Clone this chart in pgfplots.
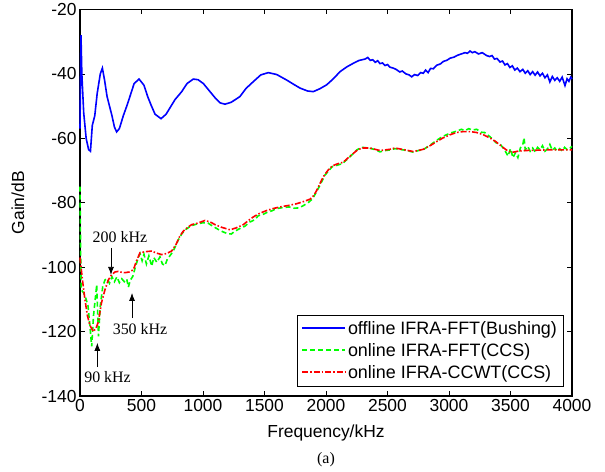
\documentclass[border=0pt]{standalone}
\usepackage{fontspec}
\setmainfont{Liberation Sans}
\newfontfamily\timesfont{Liberation Serif}
\usepackage{pgfplots}
\pgfplotsset{compat=1.18}
\usetikzlibrary{arrows.meta}
\definecolor{mblue}{rgb}{0,0,1}
\definecolor{mgreen}{rgb}{0,1,0}
\definecolor{mred}{rgb}{1,0,0}
\newcommand{\lbl}{\fontsize{17.5}{20}\selectfont}
\newcommand{\leg}{\fontsize{18}{21}\selectfont}
\newcommand{\ann}{\timesfont\fontsize{16}{19}\selectfont}

\begin{document}
\begin{tikzpicture}
\path[use as bounding box] (-80bp,-76bp) rectangle (525bp,396bp);
\begin{axis}[
  at={(0,0)}, anchor=south west,
  scale only axis, width=492bp, height=386.5bp,
  xmin=0, xmax=4000, ymin=-140, ymax=-20,
  xtick={0,500,...,4000}, ytick={-140,-120,...,-20},
  tick align=inside, major tick length=5bp,
  axis line style={line width=1.1bp},
  every tick/.style={black, line width=0.8bp},
  /pgf/number format/assume math mode=true,
  /pgf/number format/1000 sep={},
  ticklabel style={font=\lbl},
  xlabel={Frequency/kHz}, ylabel={Gain/dB},
  every axis x label/.style={at={(axis description cs:0.5,-0.0957)}, anchor=center, font=\lbl},
  every axis y label/.style={at={(axis description cs:-0.126,0.5)}, anchor=center, rotate=90, font=\lbl},
  legend style={font=\leg, at={(rel axis cs:0.982,0.026)}, anchor=south east,
    draw=black, cells={anchor=west}, row sep=3.5bp,
    inner xsep=4bp, inner ysep=4bp},
  legend image code/.code={\draw[#1] (0bp,0.5bp) -- (43bp,0.5bp);},
  legend image post style={line width=1.8bp},
  clip=false,
]
\addplot[color=mblue, line width=1.6bp] coordinates {
(0,-57) (8,-28) (15,-40) (30,-52) (50,-60) (70,-63.5) (85,-64) (100,-56) (120,-53)
(140,-46) (165,-40) (182,-38.2) (200,-42) (220,-47) (240,-50) (260,-53) (280,-56.5)
(298,-58) (320,-57) (352,-53) (380,-50) (406,-47) (440,-43) (480,-41.6) (520,-43.5)
(550,-47) (577,-49.6) (610,-52.5) (659,-53.9) (700,-52.5) (740,-50) (772,-48)
(827,-45.5) (870,-43) (921,-41.6) (960,-41.8) (1003,-43) (1057,-45.5) (1100,-47.5)
(1140,-49) (1179,-49.4) (1230,-48.8) (1301,-47) (1350,-44.5) (1409,-42.4) (1470,-40.3)
(1531,-39.6) (1600,-40.2) (1680,-41.9) (1740,-43.3) (1789,-44.4) (1850,-45.3)
(1897,-45.5) (1950,-44.6) (2005,-43.4) (2060,-41.5) (2114,-39.3) (2170,-37.8)
(2222,-36.7) (2270,-35.8) (2317,-35.4) (2340,-34.9) (2360,-35.8) (2380,-35.6)
(2400,-36.4) (2420,-35.9) (2439,-36.8) (2460,-36.6) (2480,-37.4) (2500,-37.1)
(2520,-37.9) (2547,-38.2) (2570,-38.6) (2600,-39.4) (2620,-39.1) (2650,-40)
(2675,-40.3) (2697,-40.9) (2720,-40.2) (2745,-40.5) (2770,-39.6) (2791,-39.8)
(2810,-38.8) (2830,-39.6) (2850,-38.3) (2873,-38.4) (2900,-37.3) (2930,-36.9)
(2955,-36.1) (2981,-35.8) (3010,-35.1) (3040,-34.8) (3070,-34.2) (3100,-33.8)
(3130,-33.4) (3150,-33.6) (3171,-32.9) (3190,-33.4) (3210,-33.1) (3240,-33.8)
(3270,-33.4) (3306,-34.3) (3330,-34.6) (3350,-34.3) (3370,-35.4) (3390,-35.2)
(3415,-36.3) (3435,-36.0) (3455,-37.2) (3475,-36.8) (3495,-38.0) (3515,-37.5)
(3535,-38.8) (3555,-38.2) (3577,-39.3) (3600,-38.6) (3620,-39.8) (3640,-39.0)
(3660,-40.2) (3680,-39.3) (3700,-40.4) (3720,-39.4) (3740,-40.6) (3760,-39.8)
(3780,-41.2) (3800,-40.3) (3820,-42.5) (3840,-40.8) (3860,-42.0) (3880,-41.2)
(3900,-42.3) (3920,-41.0) (3943,-43.6) (3960,-41.5) (3975,-42.3) (3990,-41.0) (4000,-41.6)
};
\addlegendentry{offline IFRA-FFT(Bushing)}
\addplot[color=mgreen, line width=1.6bp, dash pattern=on 5bp off 3bp] coordinates {
(0,-75) (5,-95) (10,-107) (30,-108) (50,-110) (65,-112) (80,-118) (95,-124.6)
(110,-115) (136,-105.5) (150,-121.5) (165,-112) (185,-106) (203,-104) (220,-103.5)
(240,-105) (260,-103) (280,-104.5) (300,-103) (320,-104.8) (340,-103.6) (360,-104.5)
(380,-103.7) (393,-106.2) (410,-104) (430,-102.8) (450,-100) (470,-97.5) (488,-95.8)
(505,-98) (520,-96) (540,-99) (560,-96.5) (583,-99.7) (600,-97) (625,-98.5)
(650,-96.8) (670,-99) (691,-99.5) (710,-97.5) (730,-96.5) (750,-95.5) (770,-94)
(800,-91.5) (830,-89.5) (860,-88.3) (900,-87.2) (950,-86.6) (1000,-86.2) (1040,-86.3)
(1080,-87.3) (1120,-88.2) (1160,-89) (1200,-89.6) (1230,-89.7) (1260,-88.8)
(1300,-88) (1340,-87.3) (1380,-86) (1420,-85.3) (1450,-84) (1480,-83.8) (1520,-83)
(1560,-82.5) (1600,-81.8) (1650,-81.5) (1700,-81.3) (1740,-81.7) (1780,-81.6)
(1820,-80.8) (1860,-79.8) (1890,-78.8) (1920,-76.8) (1945,-75) (1965,-73.5)
(1990,-71.5) (2019,-70.2) (2050,-68.8) (2087,-68.4) (2120,-68) (2141,-67.6)
(2175,-66.4) (2209,-65.2) (2250,-63.6) (2290,-62.8) (2320,-62.9) (2358,-63.1)
(2400,-63.5) (2439,-64.2) (2480,-63.8) (2520,-63.6) (2561,-63.2) (2630,-63.6)
(2680,-64) (2710,-64.3) (2750,-63.8) (2791,-63.5) (2850,-62) (2900,-60.6) (2950,-59.4)
(3008,-58.4) (3060,-57.8) (3100,-57.2) (3130,-57.6) (3160,-57) (3190,-57.4)
(3225,-57.2) (3260,-58.1) (3290,-58.2) (3333,-59.5) (3360,-60.4) (3380,-61.3)
(3420,-62) (3450,-63.5) (3480,-65.5) (3500,-63.2) (3520,-66) (3540,-64.5) (3560,-66)
(3580,-63) (3600,-62) (3610,-59.8) (3620,-63.5) (3640,-62.5) (3660,-64) (3680,-63)
(3700,-64.2) (3720,-62.8) (3740,-63.5) (3760,-62.3) (3780,-64) (3800,-63.3)
(3820,-61.9) (3840,-63.7) (3860,-63) (3880,-64) (3900,-63.2) (3920,-63.9)
(3940,-62.8) (3960,-63.5) (3980,-63.2) (4000,-62.5)
};
\addlegendentry{online IFRA-FFT(CCS)}
\addplot[color=mred, line width=1.6bp, dash pattern=on 6bp off 2bp on 1.5bp off 2bp] coordinates {
(0,-97) (20,-104) (40,-110) (60,-115) (80,-118) (108,-120) (130,-119) (149,-117)
(175,-111) (203,-107) (230,-104) (258,-102.3) (285,-101.5) (312,-101.3) (340,-101.6)
(366,-101.7) (400,-101.5) (434,-100.8) (460,-98) (488,-95.5) (530,-95.2) (583,-95)
(620,-95.6) (664,-96.1) (700,-95.8) (745,-95) (780,-93) (810,-90.5) (840,-88.8)
(880,-87.5) (908,-86.8) (960,-86.3) (1016,-85.5) (1060,-86) (1098,-86.8) (1150,-87.6)
(1220,-88.4) (1270,-87.8) (1328,-86.8) (1370,-85.5) (1409,-84.4) (1460,-83.3)
(1518,-82.4) (1570,-81.8) (1626,-81.3) (1700,-80.8) (1762,-80.3) (1820,-79.6)
(1870,-78.9) (1900,-77.8) (1924,-76.2) (1945,-74.5) (1965,-72.9) (1990,-71.2)
(2019,-69.8) (2050,-68.6) (2087,-68) (2141,-67.4) (2175,-66.2) (2209,-65.1)
(2250,-63.8) (2290,-63) (2358,-63) (2439,-63.8) (2520,-63.4) (2561,-63) (2630,-63.5)
(2710,-64.1) (2791,-63.4) (2850,-62.2) (2900,-61) (2950,-59.9) (3008,-58.9)
(3060,-58.2) (3117,-57.9) (3170,-57.9) (3225,-58.2) (3280,-58.9) (3333,-59.9)
(3380,-61) (3428,-62.5) (3470,-63.7) (3509,-64.4) (3560,-64) (3604,-63.8)
(3700,-63.7) (3794,-63.6) (3900,-63.6) (4000,-63.6)
};
\addlegendentry{online IFRA-CCWT(CCS)}
% annotations
\node[font=\ann] at (axis cs:325,-90.6) {200 kHz};
\draw[line width=0.8bp, -{Latex[length=8bp,width=6bp]}] (axis cs:252,-94.0) -- (axis cs:252,-102.4);
\node[font=\ann] at (axis cs:488,-119.2) {350 kHz};
\draw[line width=0.8bp, -{Latex[length=8bp,width=6bp]}] (axis cs:423,-115.8) -- (axis cs:423,-108.0);
\node[font=\ann] at (axis cs:224,-134) {90 kHz};
\draw[line width=0.8bp, -{Latex[length=8bp,width=6bp]}] (axis cs:141,-131) -- (axis cs:141,-123.5);
\node[font=\ann] at (axis description cs:0.5,0) [yshift=-64bp] {(a)};
\end{axis}
\end{tikzpicture}
\end{document}
